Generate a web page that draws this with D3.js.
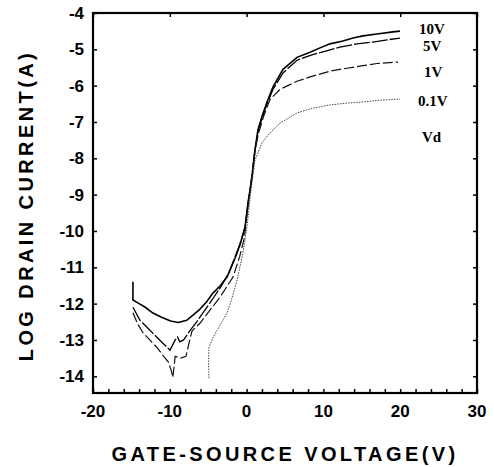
<!DOCTYPE html>
<html>
<head>
<meta charset="utf-8">
<script src="https://cdn.jsdelivr.net/npm/d3@7"></script>
<style>
  body { margin: 0; background: #fff; }
  .tick-label { font-family: "Liberation Sans", Arial, sans-serif; font-weight: bold; font-size: 17px; }
  .title { font-family: "Liberation Sans", Arial, sans-serif; font-weight: bold; font-size: 20px; letter-spacing: 3.4px; }
  .vd { font-family: "Liberation Serif", "Times New Roman", serif; font-weight: bold; font-size: 15px; }
</style>
</head>
<body>
<script>
var width = 494;
var height = 467;

// x tick labels, y tick labels
var xTicks = [-20, -10, 0, 10, 20, 30];
var yTicks = [-4, -5, -6, -7, -8, -9, -10, -11, -12, -13, -14];

// curve labels on the right
var curveLabels = ["10V", "5V", "1V", "0.1V", "Vd"];

// [Vgs, log Id]
var vd10 = [[-14.8,-11.4],[-14.8,-11.9],[-14.0,-12.0],[-13.2,-12.1],[-12.2,-12.26],[-11.0,-12.38],[-9.9,-12.48],
  [-8.9,-12.52],[-7.8,-12.46],[-6.9,-12.3],[-6.07,-12.15],[-5.2,-11.95],[-4.38,-11.71],[-3.4,-11.5],[-2.55,-11.27],
  [-1.51,-10.75],[-0.86,-10.38],[-0.21,-9.9],[0.18,-9.23],[0.7,-8.52],[1.09,-7.77],[1.48,-7.22],[2.0,-6.85],
  [2.66,-6.45],[3.44,-6.03],[4.74,-5.55],[6.56,-5.22],[8.26,-5.08],[9.56,-4.96],[10.86,-4.85],[12.55,-4.77],
  [13.85,-4.69],[15.16,-4.63],[16.98,-4.58],[19.06,-4.52],[19.97,-4.5]];

var vd5 = [[-14.8,-12.1],[-13.88,-12.46],[-12.97,-12.65],[-12.19,-12.82],[-10.9,-13.09],[-9.97,-13.28],[-9.3,-13.0],
  [-9.0,-12.92],[-8.7,-13.05],[-8.2,-13.0],[-7.4,-12.75],[-6.5,-12.5],[-5.5,-12.2],[-4.5,-11.9],[-3.4,-11.55],
  [-2.3,-11.15],[-1.51,-10.72],[-0.86,-10.36],[-0.21,-9.92],[0.18,-9.25],[0.7,-8.54],[1.09,-7.8],[1.48,-7.26],
  [2.0,-6.9],[2.66,-6.5],[3.44,-6.1],[4.74,-5.65],[6.56,-5.3],[8.5,-5.15],[9.95,-5.07],[12.16,-4.94],
  [14.38,-4.85],[16.46,-4.8],[18.28,-4.74],[19.97,-4.69]];

var vd1 = [[-14.8,-12.25],[-14.2,-12.55],[-13.5,-12.8],[-12.6,-13.0],[-11.7,-13.2],[-10.8,-13.45],[-10.2,-13.6],
  [-9.8,-13.85],[-9.6,-14.03],[-9.3,-13.45],[-8.6,-13.5],[-7.9,-13.45],[-7.4,-13.0],[-7.1,-12.75],[-6.07,-12.54],
  [-4.77,-12.18],[-3.46,-11.82],[-1.77,-11.27],[-0.9,-10.7],[-0.3,-10.2],[0.15,-9.4],[0.6,-8.6],[1.0,-7.9],
  [1.5,-7.35],[2.2,-6.85],[3.05,-6.38],[4.35,-6.1],[6.56,-5.88],[8.26,-5.76],[10.86,-5.6],[13.07,-5.52],
  [15.16,-5.45],[16.98,-5.39],[19.71,-5.35]];

var vd01 = [[-4.9,-14.05],[-4.95,-13.6],[-4.9,-13.2],[-4.4,-12.95],[-3.85,-12.73],[-3.2,-12.5],[-2.55,-12.26],
  [-1.9,-11.85],[-1.25,-11.36],[-0.47,-10.6],[0.1,-9.8],[0.5,-9.0],[0.8,-8.5],[1.09,-8.05],[2.0,-7.58],
  [2.79,-7.36],[4.35,-7.03],[6.56,-6.75],[8.65,-6.62],[10.86,-6.53],[13.07,-6.48],[15.16,-6.45],[17.37,-6.4],
  [19.97,-6.37]];

var margin = {top: 13, right: 17, bottom: 74, left: 93};

var svg = d3.select("body").append("svg")
    .attr("width", width)
    .attr("height", height);

var x = d3.scaleLinear()
    .domain([-20, 30])
    .range([margin.left, width - margin.right]);

var y = d3.scaleLinear()
    .domain([-14.46, -4])
    .range([height - margin.bottom, margin.top]);

var line = d3.line()
    .x(d => x(d[0]))
    .y(d => y(d[1]));

// curves
var series = [
  {data: vd10, width: 1.6, dash: null, color: "#000"},
  {data: vd5, width: 1.3, dash: "16,2", color: "#000"},
  {data: vd1, width: 1.2, dash: "10,3", color: "#111"},
  {data: vd01, width: 1, dash: "1.5,1.2", color: "#444"}
];

svg.selectAll(".curve")
  .data(series)
  .enter()
    .append("path")
    .attr("class", "curve")
    .attr("d", d => line(d.data))
    .attr("fill", "none")
    .attr("stroke", d => d.color)
    .attr("stroke-width", d => d.width)
    .attr("stroke-dasharray", d => d.dash);

// axes, ticks inside the frame
var plotH = height - margin.bottom - margin.top;
var plotW = width - margin.right - margin.left;

svg.append("g")
    .attr("transform", "translate(0," + y(-14.46) + ")")
    .call(d3.axisBottom(x).tickValues(d3.range(-20, 31, 2)).tickSize(-4).tickFormat(""))
    .call(g => g.select(".domain").remove());

svg.append("g")
    .attr("transform", "translate(0," + margin.top + ")")
    .call(d3.axisTop(x).tickValues(xTicks).tickSize(-4).tickFormat(""))
    .call(g => g.select(".domain").remove());

svg.append("g")
    .attr("transform", "translate(" + margin.left + ",0)")
    .call(d3.axisLeft(y).tickValues(yTicks).tickSize(-4).tickFormat(""))
    .call(g => g.select(".domain").remove());

svg.append("g")
    .attr("transform", "translate(" + (width - margin.right) + ",0)")
    .call(d3.axisRight(y).tickValues(yTicks).tickSize(-4).tickFormat(""))
    .call(g => g.select(".domain").remove());

svg.selectAll(".tick line").attr("stroke", "#000").attr("stroke-width", 1.5);

svg.append("rect")
    .attr("x", margin.left)
    .attr("y", margin.top)
    .attr("width", plotW)
    .attr("height", plotH)
    .attr("fill", "none")
    .attr("stroke", "#000")
    .attr("stroke-width", 2.2);

// tick labels
svg.selectAll(".xlab")
  .data(xTicks)
  .enter()
    .append("text")
    .attr("class", "tick-label")
    .attr("x", d => x(d))
    .attr("y", 417)
    .attr("text-anchor", "middle")
    .text(d => d);

svg.selectAll(".ylab")
  .data(yTicks)
  .enter()
    .append("text")
    .attr("class", "tick-label")
    .attr("x", margin.left - 9)
    .attr("y", d => y(d) + 6)
    .attr("text-anchor", "end")
    .text(d => d);

// titles
svg.append("text")
    .attr("class", "title")
    .attr("x", x(5))
    .attr("y", 461)
    .attr("text-anchor", "middle")
    .text("GATE-SOURCE VOLTAGE(V)");

svg.append("text")
    .attr("class", "title")
    .attr("transform", "translate(33," + y(-9.3) + ") rotate(-90)")
    .attr("text-anchor", "middle")
    .text("LOG DRAIN CURRENT(A)");

// Vd labels
var labelPos = [[419, 34], [423, 51], [424, 77], [418, 106], [422, 142]];
svg.selectAll(".vd")
  .data(curveLabels)
  .enter()
    .append("text")
    .attr("class", "vd")
    .attr("x", (d, i) => labelPos[i][0])
    .attr("y", (d, i) => labelPos[i][1])
    .text(d => d);
</script>
</body>
</html>
